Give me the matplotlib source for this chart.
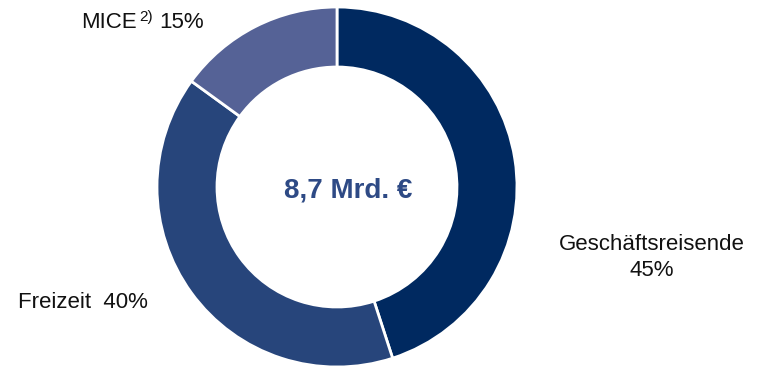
import matplotlib
matplotlib.use("Agg")
import matplotlib.pyplot as plt

plt.rcParams['font.family'] = ['Liberation Sans', 'DejaVu Sans']

segments = ["Geschäftsreisende", "Freizeit", "MICE"]
shares = [45, 40, 15]
colors = ["#002960", "#27457B", "#556296"]
total_label = "8,7 Mrd. €"
footnote = "2)"

W, H = 770, 367
fig = plt.figure(figsize=(W / 100, H / 100), dpi=100)
ax = fig.add_axes([0, 0, 1, 1])

cx, cy, r = 337, 180, 180
ax.pie(shares, colors=colors, startangle=90, counterclock=False,
       radius=r, center=(cx, cy), frame=True,
       wedgeprops=dict(width=60, edgecolor='white', linewidth=2))
ax.set_xlim(0, W)
ax.set_ylim(0, H)
ax.set_aspect('equal')
ax.axis('off')

ax.text(cx + 11, 169, total_label, ha='center', va='baseline',
        fontsize=20, fontweight='bold', color='#2E4A85')

fs = 16
txt = '#111111'
ax.text(652, 122, segments[0], ha='center', va='center', fontsize=fs, color=txt)
ax.text(652, 97, f"{shares[0]}%", ha='center', va='center', fontsize=fs, color=txt)
ax.text(18, 64, f"{segments[1]}  {shares[1]}%", ha='left', va='center',
        fontsize=fs, color=txt)
ax.text(81, 344, segments[2], ha='left', va='center', fontsize=fs, color=txt)
ax.text(139, 350, footnote, ha='left', va='center', fontsize=11, color=txt)
ax.text(159, 344, f"{shares[2]}%", ha='left', va='center', fontsize=fs, color=txt)

fig.savefig("out.png", dpi=100)
